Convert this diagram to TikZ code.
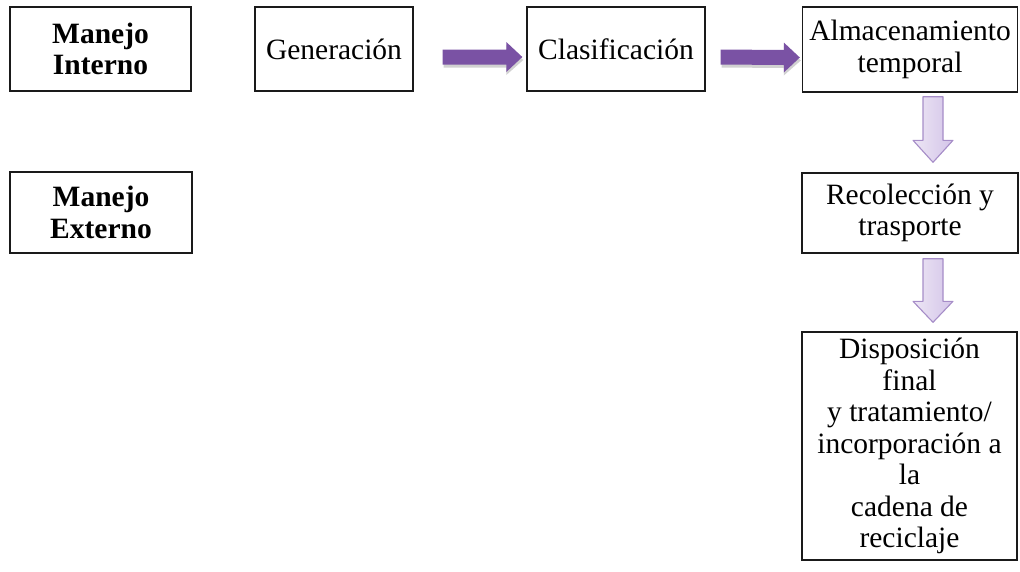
\documentclass[tikz,border=0pt]{standalone}
\usepackage{fontspec}
\setmainfont{Liberation Serif}
\usetikzlibrary{calc}
\definecolor{boxline}{HTML}{1A1A1A}
\definecolor{harrowfill}{HTML}{7A52A4}
\definecolor{harrowdark}{HTML}{6A4494}
\definecolor{varrowline}{HTML}{A68DC8}
\definecolor{varrowleft}{HTML}{EDE6F5}
\definecolor{varrowright}{HTML}{D3C4E8}
\tikzset{
  flowbox/.style={draw=boxline, line width=1.4pt, rectangle, align=center,
    inner sep=0pt, font=\fontsize{29.5}{31.5}\selectfont},
  boldbox/.style={flowbox, font=\fontsize{29.5}{31.5}\selectfont\bfseries},
  harrow/.style={fill=harrowfill, draw=none},
  hshadow/.style={fill=black, opacity=0.18, draw=none},
  varrow/.style={draw=varrowline, line width=1.1pt, line join=round,
    left color=varrowleft, right color=varrowright}
}
\begin{document}
\begin{tikzpicture}[x=1pt,y=-1pt]
\useasboundingbox (0,0) rectangle (1020,571);
% boxes
\node[boldbox, minimum width=181pt, minimum height=84pt] (mi) at (100.5,49) {Manejo\\Interno};
\node[boldbox, minimum width=182pt, minimum height=81pt] (me) at (101,212.5) {Manejo\\Externo};
\node[flowbox, minimum width=158pt, minimum height=84pt] (gen) at (334,49) {Generación};
\node[flowbox, minimum width=178pt, minimum height=84pt] (cla) at (616,49) {Clasificación};
\node[flowbox, minimum width=215pt, minimum height=85pt] (alm) at (910,49.5) {Almacenamiento\\temporal};
\node[flowbox, minimum width=216pt, minimum height=80pt] (rec) at (910,213) {Recolección y\\ trasporte};
\node[flowbox, minimum width=215pt, minimum height=228pt] (dis) at (909.5,446)
  {Disposición\\final\\y tratamiento/\\incorporación a\\la\\cadena de\\reciclaje};
% horizontal arrows gen -> cla
\coordinate (a1s) at ($(gen.east)+(29,8)$);
\coordinate (a1e) at ($(cla.west)+(-4,8)$);
\fill[hshadow] ($(a1s)+(1,-4.5)$) -- ($(a1e)+(-16,-4.5)$) -- ($(a1e)+(-16,-12)$) -- ($(a1e)+(1,3)$)
  -- ($(a1e)+(-16,18)$) -- ($(a1e)+(-16,10.5)$) -- ($(a1s)+(1,10.5)$) -- cycle;
\fill[harrow] ($(a1s)+(0,-7.5)$) -- ($(a1e)+(-16,-7.5)$) -- ($(a1e)+(-16,-15)$) -- (a1e)
  -- ($(a1e)+(-16,15)$) -- ($(a1e)+(-16,7.5)$) -- ($(a1s)+(0,7.5)$) -- cycle;
% cla -> alm
\coordinate (a2s) at ($(cla.east)+(15,8)$);
\coordinate (a2e) at ($(alm.west)+(-2,8)$);
\fill[hshadow] ($(a2s)+(1,-4.5)$) -- ($(a2e)+(-16,-4.5)$) -- ($(a2e)+(-16,-12)$) -- ($(a2e)+(1,3)$)
  -- ($(a2e)+(-16,18)$) -- ($(a2e)+(-16,10.5)$) -- ($(a2s)+(1,10.5)$) -- cycle;
\fill[harrow] ($(a2s)+(0,-7.5)$) -- ($(a2e)+(-16,-7.5)$) -- ($(a2e)+(-16,-15)$) -- (a2e)
  -- ($(a2e)+(-16,15)$) -- ($(a2e)+(-16,7.5)$) -- ($(a2s)+(0,7.5)$) -- cycle;
% vertical arrows alm -> rec
\coordinate (v1s) at ($(alm.south)+(23,4)$);
\coordinate (v1e) at ($(rec.north)+(23,-10)$);
\draw[varrow] ($(v1s)+(-10,0)$) -- ($(v1s)+(10,0)$) -- ($(v1e)+(10,-22)$) -- ($(v1e)+(20,-22)$)
  -- (v1e) -- ($(v1e)+(-20,-22)$) -- ($(v1e)+(-10,-22)$) -- cycle;
% rec -> dis
\coordinate (v2s) at ($(rec.south)+(23,5)$);
\coordinate (v2e) at ($(dis.north)+(23.5,-9)$);
\draw[varrow] ($(v2s)+(-10,0)$) -- ($(v2s)+(10,0)$) -- ($(v2e)+(10,-21)$) -- ($(v2e)+(20,-21)$)
  -- (v2e) -- ($(v2e)+(-20,-21)$) -- ($(v2e)+(-10,-21)$) -- cycle;
\end{tikzpicture}
\end{document}
